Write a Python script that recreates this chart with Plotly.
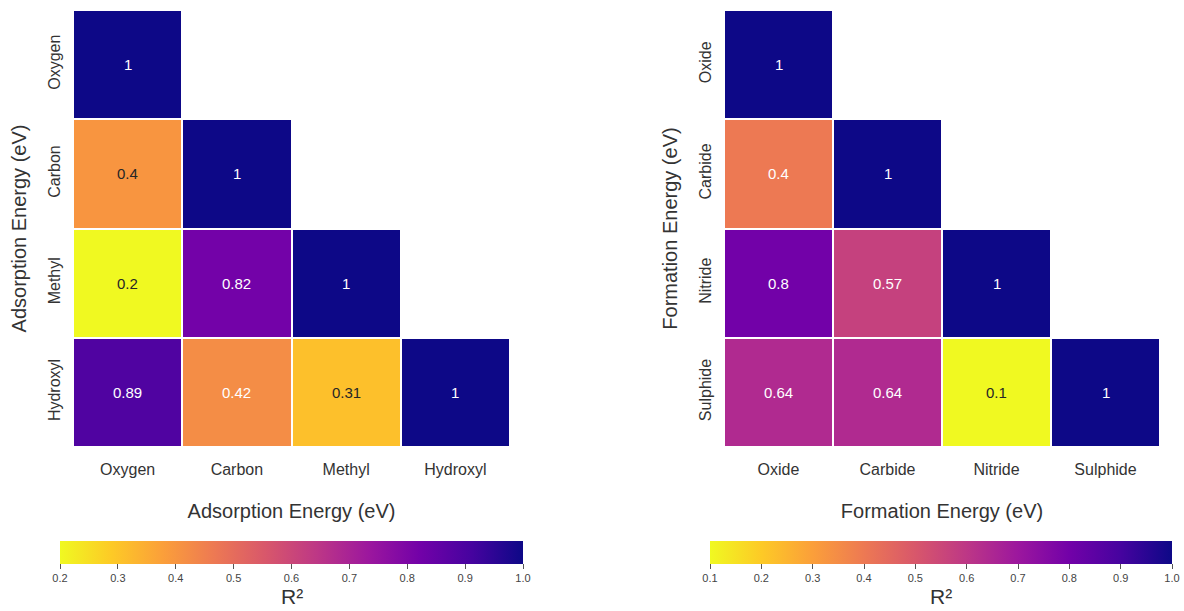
import plotly.graph_objects as go

# Data
ads_labels = ["Oxygen", "Carbon", "Methyl", "Hydroxyl"]
ads_values = [
    [1, None, None, None],
    [0.4, 1, None, None],
    [0.2, 0.82, 1, None],
    [0.89, 0.42, 0.31, 1],
]
ads_text_dark = [
    [False, None, None, None],
    [True, False, None, None],
    [True, False, False, None],
    [False, False, True, False],
]
form_labels = ["Oxide", "Carbide", "Nitride", "Sulphide"]
form_values = [
    [1, None, None, None],
    [0.4, 1, None, None],
    [0.8, 0.57, 1, None],
    [0.64, 0.64, 0.1, 1],
]
form_text_dark = [
    [False, None, None, None],
    [False, False, None, None],
    [False, False, False, None],
    [False, False, True, False],
]
ads_title = "Adsorption Energy (eV)"
form_title = "Formation Energy (eV)"
cbar_title = "R²"

W, H = 1184, 611
FONT = "Liberation Sans, Arial, sans-serif"
TXT = "#333333"

def px_x(a, b):
    return [a / W, b / W]

def px_y(top, bottom):
    return [(H - bottom) / H, (H - top) / H]

fig = go.Figure()

def add_heat(labels, values, zmin, zmax, xa, ya, cb_x0, cb_x1):
    fig.add_trace(go.Heatmap(
        z=values, x=labels, y=labels,
        colorscale="Plasma_r", zmin=zmin, zmax=zmax,
        xgap=2, ygap=2, hoverongaps=False,
        xaxis=xa, yaxis=ya,
        colorbar=dict(
            orientation="h",
            x=(cb_x0 + cb_x1) / 2 / W, xanchor="center",
            y=(H - 541) / H, yanchor="top",
            len=cb_x1 - cb_x0, lenmode="pixels",
            thickness=23, thicknessmode="pixels",
            xpad=0, ypad=0, outlinewidth=0,
            tickmode="linear", tick0=zmin, dtick=0.1, tickformat=".1f",
            ticks="outside", ticklen=5, tickcolor="#555", tickwidth=1,
            tickfont=dict(family=FONT, size=11, color="#444"),
        ),
    ))
    fig.add_annotation(
        x=(cb_x0 + cb_x1) / 2 / W, y=1 / H, xref="paper", yref="paper",
        text=cbar_title, showarrow=False, xanchor="center", yanchor="bottom",
        font=dict(family=FONT, size=21, color=TXT),
    )

add_heat(ads_labels, ads_values, 0.2, 1.0, "x", "y", 60, 523)
add_heat(form_labels, form_values, 0.1, 1.0, "x2", "y2", 710, 1172)

def add_cell_text(labels, values, dark, xref, yref):
    for i, row in enumerate(values):
        for j, v in enumerate(row):
            if v is None:
                continue
            fig.add_annotation(
                x=labels[j], y=labels[i], xref=xref, yref=yref,
                text=f"{v:g}", showarrow=False,
                font=dict(family=FONT, size=15,
                          color="#262626" if dark[i][j] else "white"),
            )

add_cell_text(ads_labels, ads_values, ads_text_dark, "x", "y")
add_cell_text(form_labels, form_values, form_text_dark, "x2", "y2")

def xaxis_cfg(dom, title, anchor):
    return dict(domain=dom, anchor=anchor, showgrid=False, zeroline=False,
                showline=False, ticks="outside", ticklen=8, tickcolor="white",
                tickfont=dict(family=FONT, size=16, color=TXT),
                title=dict(text=title, standoff=26,
                           font=dict(family=FONT, size=20, color=TXT)))

def yaxis_cfg(dom, title, anchor):
    return dict(domain=dom, anchor=anchor, showgrid=False, zeroline=False,
                showline=False, autorange="reversed", tickangle=-90,
                ticks="outside", ticklen=6, tickcolor="white",
                tickfont=dict(family=FONT, size=16, color=TXT),
                title=dict(text=title, standoff=13,
                           font=dict(family=FONT, size=20, color=TXT)))

fig.update_layout(
    width=W, height=H,
    margin=dict(l=0, r=0, t=0, b=0),
    paper_bgcolor="white", plot_bgcolor="white",
    font=dict(family=FONT, color=TXT),
    xaxis=xaxis_cfg(px_x(73, 510), ads_title, "y"),
    yaxis=yaxis_cfg(px_y(10, 447), ads_title, "x"),
    xaxis2=xaxis_cfg(px_x(724, 1160), form_title, "y2"),
    yaxis2=yaxis_cfg(px_y(10, 447), form_title, "x2"),
)

fig.write_html("out.html")
